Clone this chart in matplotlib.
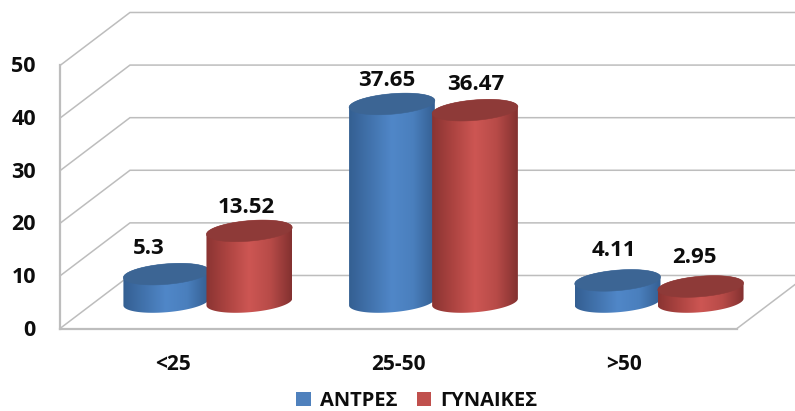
import numpy as np
import matplotlib
matplotlib.use("Agg")
import matplotlib.pyplot as plt
from matplotlib.colors import LinearSegmentedColormap
from matplotlib.patches import Polygon, Patch

categories = ["<25", "25-50", ">50"]
series_names = ["ΑΝΤΡΕΣ", "ΓΥΝΑΙΚΕΣ"]
men = [5.3, 37.65, 4.11]
women = [13.52, 36.47, 2.95]
y_ticks = [0, 10, 20, 30, 40, 50]

FONT = "Open Sans"
GRID = "#bdbdbd"
TXT = "#0d0d0d"
BLUE = ("#4f81bd", "#3c6594", ["#345f92", "#4273ad", "#5087c8", "#4a7fbd", "#345f92"])
RED = ("#c0504d", "#8e3a38", ["#8a3432", "#ad4441", "#cd5653", "#b84b48", "#833130"])

W, H = 795, 411
PT = 0.72  # points per pixel at dpi 100
fig = plt.figure(figsize=(W / 100, H / 100), dpi=100)
ax = fig.add_axes([60 / W, (H - 328.5) / H, 677 / W, 263 / H])
ax.axis("off")

DX, DY = 0.31, 10.08        # oblique depth of the 3-D box, in data units
XMAX, YMAX = len(categories), y_ticks[-1]
A, B, SHEAR = 0.19, 1.95, 0.65   # ellipse half-axes and tilt
OFFSET = 0.184              # bar offset from category centre

for t in y_ticks:
    ax.plot([0, DX, XMAX + DX], [t, t + DY, t + DY], color=GRID, lw=1.1,
            clip_on=False, solid_joinstyle="miter", zorder=1)
ax.plot([0, 0], [0, YMAX], color=GRID, lw=1.6, clip_on=False, zorder=1.5)
ax.plot([0, XMAX], [0, 0], color=GRID, lw=1.6, clip_on=False, zorder=1.5)
ax.plot([XMAX, XMAX + DX], [0, DY], color=GRID, lw=1.1, clip_on=False, zorder=1.5)


def cylinder(cx, val, colors, z):
    top, stops = colors[1], colors[2]
    th = np.linspace(0, 2 * np.pi, 400)
    ex, ey = cx + A * np.cos(th), B * np.sin(th) + SHEAR * np.cos(th)
    lower = (th >= np.pi)
    lo_x, lo_y = ex[lower], ey[lower] + DY / 2
    up_x, up_y = ex[~lower], ey[~lower] + DY / 2 + val
    sil = Polygon(np.column_stack([np.r_[lo_x, up_x], np.r_[lo_y, up_y]]), closed=True,
                  transform=ax.transData, fc="none", ec="none", clip_on=False)
    ax.add_patch(sil)
    cmap = LinearSegmentedColormap.from_list("c", stops)
    grad = np.linspace(0, 1, 256).reshape(1, -1)
    im = ax.imshow(grad, cmap=cmap, aspect="auto", zorder=z,
                   extent=[cx - A, cx + A, 0, YMAX + DY + 5])
    im.set_clip_box(fig.bbox)
    im.set_clip_path(sil)
    ax.add_patch(Polygon(np.column_stack([ex, ey + DY / 2 + val]), closed=True,
                         fc=top, ec=top, lw=0.4, zorder=z + 0.1, clip_on=False))


LABEL_NUDGE = [[(-18, 28), (-3, 25)], [(-5, 25), (1, 28)], [(-4, 32), (-6, 30.5)]]
for i, cat in enumerate(categories):
    cx = i + 0.5 + DX / 2
    for j, (vals, col) in enumerate(((men, BLUE), (women, RED))):
        bar_x = cx + (2 * j - 1) * OFFSET
        cylinder(bar_x, vals[i], col, 3 + j)
        nx, ny = LABEL_NUDGE[i][j]
        ax.annotate(f"{vals[i]:g}", (bar_x, vals[i] + DY / 2), xytext=(nx * PT, (ny - 2) * PT),
                    textcoords="offset points", ha="center", va="center", fontsize=16,
                    fontweight="bold", family=FONT, color=TXT, zorder=10,
                    annotation_clip=False)
    ax.annotate(cat, (i + 0.5, 0), xytext=(0, -36 * PT), textcoords="offset points",
                ha="center", va="center", fontsize=15, fontweight="bold", family=FONT,
                color=TXT, annotation_clip=False)

for t in y_ticks:
    ax.annotate(str(t), (0, t), xytext=(-24 * PT, -1.5 * PT), textcoords="offset points",
                ha="right", va="center", fontsize=15.5, fontweight="bold", family=FONT,
                color=TXT, annotation_clip=False)

ax.set_xlim(0, XMAX)
ax.set_ylim(0, YMAX)

handles = [Patch(fc=BLUE[0], ec="none"), Patch(fc=RED[0], ec="none")]
fig.legend(handles, series_names, loc="center", bbox_to_anchor=(417 / W, 1 - 401 / H), ncol=2,
           frameon=False, handlelength=0.7, handleheight=0.7, handletextpad=0.45,
           columnspacing=1.0, prop={"family": FONT, "weight": "bold", "size": 14.5},
           labelcolor=TXT)

fig.savefig("out.png", dpi=100)
